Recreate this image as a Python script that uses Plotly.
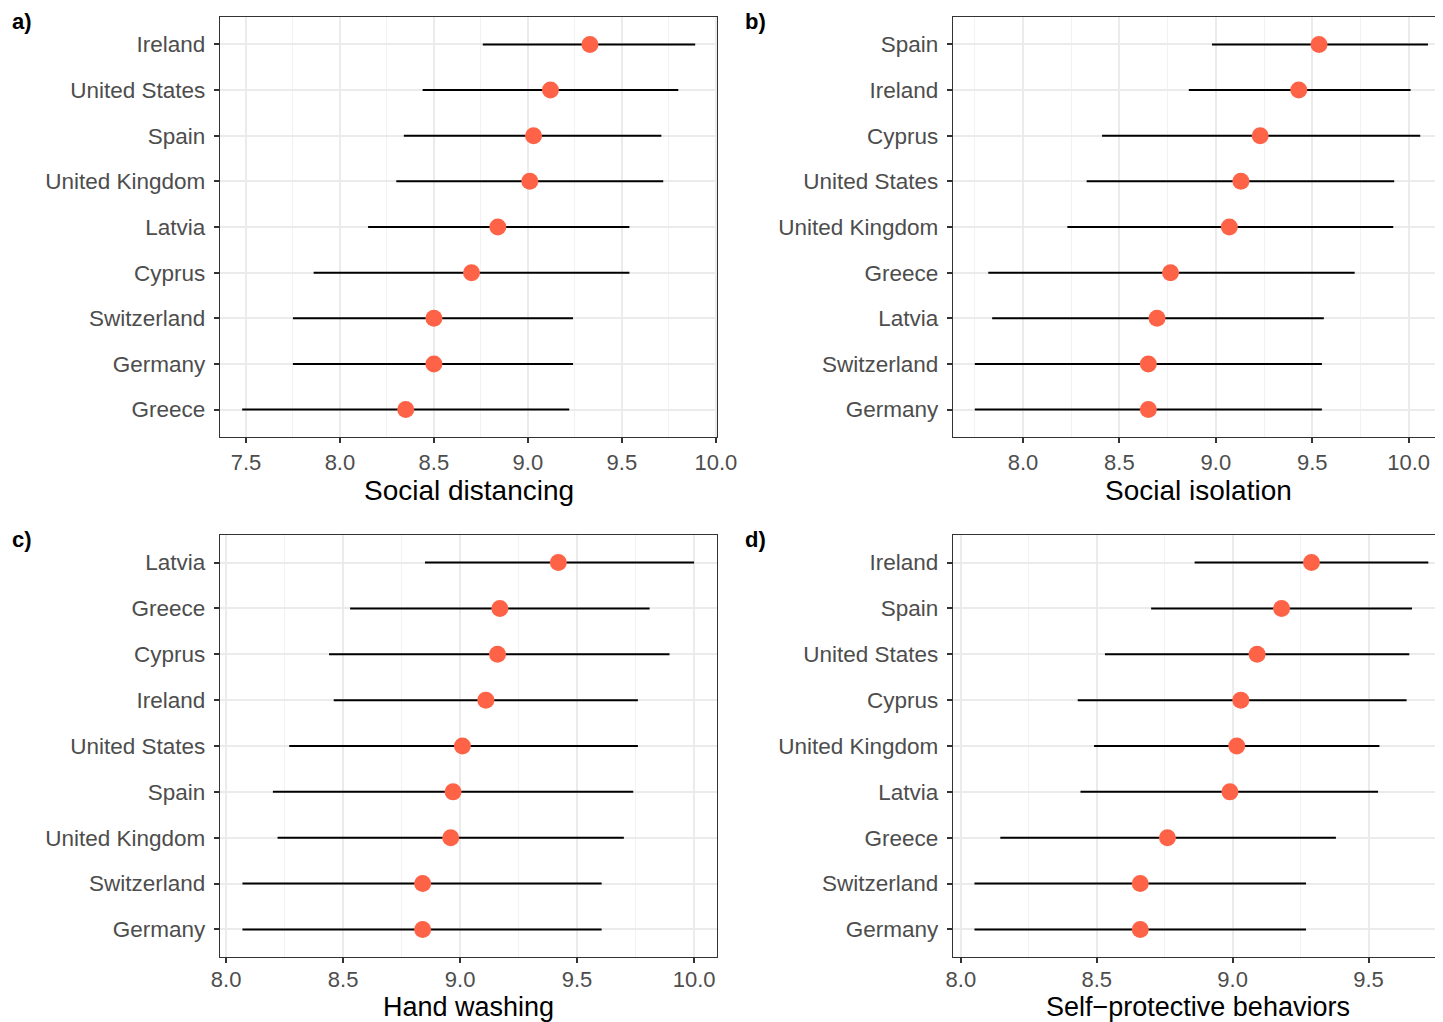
import plotly.graph_objects as go

# ---------------- data (top-to-bottom order as shown) ----------------
countries_a = ["Ireland", "United States", "Spain", "United Kingdom", "Latvia",
               "Cyprus", "Switzerland", "Germany", "Greece"]
mean_a = [9.33, 9.12, 9.03, 9.01, 8.84, 8.70, 8.50, 8.50, 8.35]
low_a = [8.76, 8.44, 8.34, 8.30, 8.15, 7.86, 7.75, 7.75, 7.48]
high_a = [9.89, 9.80, 9.71, 9.72, 9.54, 9.54, 9.24, 9.24, 9.22]

countries_b = ["Spain", "Ireland", "Cyprus", "United States", "United Kingdom",
               "Greece", "Latvia", "Switzerland", "Germany"]
mean_b = [9.535, 9.43, 9.23, 9.13, 9.07, 8.765, 8.695, 8.65, 8.65]
low_b = [8.98, 8.86, 8.41, 8.33, 8.23, 7.82, 7.84, 7.75, 7.75]
high_b = [10.10, 10.01, 10.06, 9.925, 9.92, 9.72, 9.56, 9.55, 9.55]

countries_c = ["Latvia", "Greece", "Cyprus", "Ireland", "United States",
               "Spain", "United Kingdom", "Switzerland", "Germany"]
mean_c = [9.42, 9.17, 9.16, 9.11, 9.01, 8.97, 8.96, 8.84, 8.84]
low_c = [8.85, 8.53, 8.44, 8.46, 8.27, 8.20, 8.22, 8.07, 8.07]
high_c = [10.0, 9.81, 9.895, 9.76, 9.76, 9.74, 9.70, 9.605, 9.605]

countries_d = ["Ireland", "Spain", "United States", "Cyprus", "United Kingdom",
               "Latvia", "Greece", "Switzerland", "Germany"]
mean_d = [9.29, 9.18, 9.09, 9.03, 9.015, 8.99, 8.76, 8.66, 8.66]
low_d = [8.86, 8.70, 8.53, 8.43, 8.49, 8.44, 8.145, 8.05, 8.05]
high_d = [9.72, 9.66, 9.65, 9.64, 9.54, 9.535, 9.38, 9.27, 9.27]

titles = ["Social distancing", "Social isolation", "Hand washing",
          "Self\u2212protective behaviors"]
panel_tags = ["a)", "b)", "c)", "d)"]
xticks_a = [7.5, 8.0, 8.5, 9.0, 9.5, 10.0]
xticks_b = [8.0, 8.5, 9.0, 9.5, 10.0]
xticks_c = [8.0, 8.5, 9.0, 9.5, 10.0]
xticks_d = [8.0, 8.5, 9.0, 9.5]

# ---------------- layout geometry ----------------
OX, OY = 8, 8   # page (body) margin offset compensation
W, H = 1443 + OX, 1022 + OY
FONT = "Liberation Sans, Arial, Helvetica, sans-serif"
DOT = "#FF6347"

panels = [
    dict(c=countries_a, m=mean_a, lo=low_a, hi=high_a, ticks=xticks_a,
         px=(220, 717), py=(17, 437), xr=[7.362, 10.006], right=False),
    dict(c=countries_b, m=mean_b, lo=low_b, hi=high_b, ticks=xticks_b,
         px=(953, 1443), py=(17, 437), xr=[7.637, 10.178], right=True),
    dict(c=countries_c, m=mean_c, lo=low_c, hi=high_c, ticks=xticks_c,
         px=(220, 717), py=(535, 957), xr=[7.974, 10.098], right=False),
    dict(c=countries_d, m=mean_d, lo=low_d, hi=high_d, ticks=xticks_d,
         px=(953, 1443), py=(535, 957), xr=[7.971, 9.774], right=True),
]


def fx(px):
    return (px - OX) / W


def fy(py):
    return 1 - (py - OY) / H


fig = go.Figure()
layout = dict(
    width=W, height=H,
    margin=dict(l=0, r=0, t=0, b=0, pad=0),
    paper_bgcolor="white", plot_bgcolor="white",
    showlegend=False,
    font=dict(family=FONT, color="#4D4D4D", size=22),
    annotations=[],
)

for i, p in enumerate(panels):
    n = i + 1
    xa = "x" if n == 1 else f"x{n}"
    ya = "y" if n == 1 else f"y{n}"
    xkey = "xaxis" if n == 1 else f"xaxis{n}"
    ykey = "yaxis" if n == 1 else f"yaxis{n}"
    bottom_row = i >= 2

    arr_plus = [h - m for h, m in zip(p["hi"], p["m"])]
    arr_minus = [m - l for m, l in zip(p["m"], p["lo"])]

    fig.add_trace(go.Scatter(
        x=p["m"], y=p["c"], mode="markers",
        marker=dict(size=17, color=DOT, line=dict(width=0)),
        error_x=dict(type="data", symmetric=False, array=arr_plus,
                     arrayminus=arr_minus, color="black", thickness=2, width=0),
        xaxis=xa, yaxis=ya, cliponaxis=False,
    ))

    x0, x1 = p["px"]
    y0, y1 = p["py"]
    layout[xkey] = dict(
        domain=[max(0.0, fx(x0)), min(1.0, fx(x1))], anchor=ya, range=p["xr"],
        automargin=False,
        tickmode="array", tickvals=p["ticks"],
        ticktext=[f"{v:.1f}" for v in p["ticks"]],
        showgrid=True, gridcolor="#EBEBEB", gridwidth=1.6,
        minor=dict(dtick=0.25, tick0=7.75, showgrid=True,
                   gridcolor="#F2F2F2", gridwidth=1, ticks=""),
        zeroline=False,
        showline=True, linecolor="#333333", linewidth=1.3, mirror=True,
        ticks="outside", ticklen=5, tickwidth=1.5, tickcolor="#333333",
        ticklabelstandoff=(-3 if bottom_row else 0),
        tickfont=dict(size=22, color="#4D4D4D", family=FONT),
    )
    cats_bottom_up = list(reversed(p["c"]))
    layout[ykey] = dict(
        domain=[fy(y1), fy(y0)], anchor=xa,
        automargin=False,
        type="category", categoryorder="array", categoryarray=cats_bottom_up,
        range=[-0.6, len(cats_bottom_up) - 0.4],
        showgrid=True, gridcolor="#EBEBEB", gridwidth=1.6,
        zeroline=False,
        showline=True, linecolor="#333333", linewidth=1.3,
        mirror=(not p["right"]),
        ticks="outside", ticklen=5, tickwidth=1.5, tickcolor="#333333",
        ticklabelstandoff=4,
        tickfont=dict(size=22.5, color="#4D4D4D", family=FONT),
    )

    # axis title
    title_y = 491 if not bottom_row else 1007
    layout["annotations"].append(dict(
        text=titles[i], xref="paper", yref="paper",
        x=fx((x0 + x1) / 2), y=fy(title_y),
        xanchor="center", yanchor="middle", showarrow=False,
        font=dict(size=(28 if not bottom_row else 27), color="black",
                  family=FONT),
    ))
    # panel tag
    tag_x = 10 if i % 2 == 0 else 743
    tag_y = 21 if not bottom_row else 539
    layout["annotations"].append(dict(
        text=f"<b>{panel_tags[i]}</b>", xref="paper", yref="paper",
        x=fx(tag_x), y=fy(tag_y), xanchor="left", yanchor="middle",
        showarrow=False, font=dict(size=22, color="black", family=FONT),
    ))

fig.update_layout(**layout)
fig.write_html("out.html")
